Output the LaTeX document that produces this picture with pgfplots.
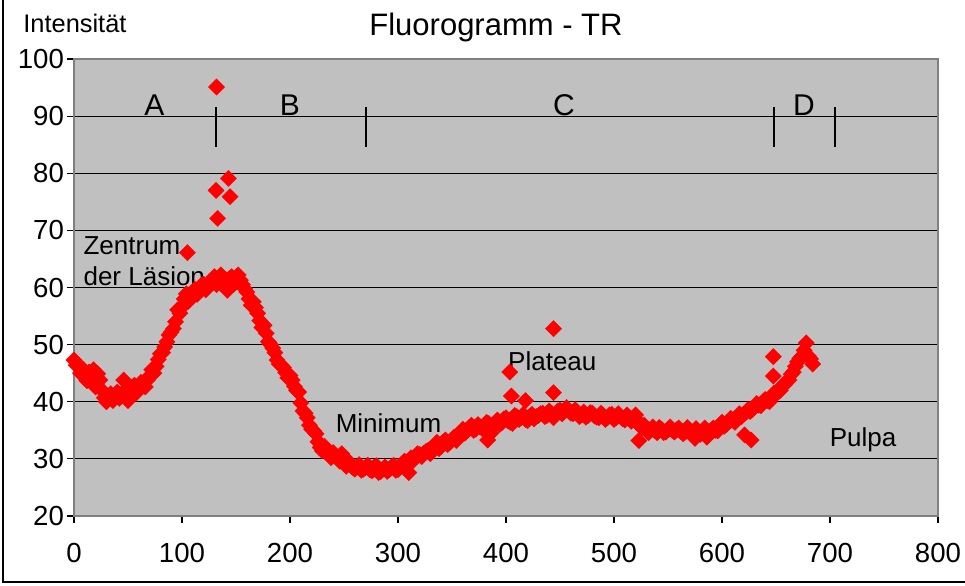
\documentclass[border=0pt]{standalone}
\usepackage{fontspec}
\setmainfont{Liberation Sans}
\usepackage{pgfplots}
\pgfplotsset{compat=1.18}

\definecolor{plotbg}{HTML}{C0C0C0}
\definecolor{frame}{HTML}{808080}
\definecolor{dotred}{HTML}{FF0000}

\begin{document}
\begin{tikzpicture}
\path[use as bounding box] (0,0) rectangle (482.5pt,-292.5pt);
% chart area border (only left and bottom survive the crop)
\draw[line width=1.2pt] (1.4pt,0) -- (1.4pt,-291pt) -- (482.5pt,-291pt);

\node[anchor=base, font=\fontsize{15.5pt}{18pt}\selectfont] at (248pt,-17.5pt) {Fluorogramm - TR};
\node[anchor=base west, inner sep=0pt, font=\fontsize{12.7pt}{15pt}\selectfont] at (11.5pt,-16pt) {Intensität};

\begin{axis}[
  at={(37pt,-258pt)}, anchor=south west,
  scale only axis,
  width=432pt, height=228.5pt,
  xmin=0, xmax=800, ymin=20, ymax=100,
  xtick={0,100,...,800},
  ytick={20,30,...,100},
  xtick pos=lower, ytick pos=left,
  tick align=outside,
  major tick length=3.5pt,
  tick style={black, line width=0.6pt},
  axis background/.style={fill=plotbg},
  axis line style={draw=frame, line width=1pt},
  ymajorgrids,
  grid style={black, line width=0.6pt},
  tick label style={font=\fontsize{13.8pt}{16pt}\selectfont},
  /pgf/number format/assume math mode=true,
  xticklabel style={yshift=-6.5pt},
  yticklabel style={xshift=2pt},
  clip=false,
]
\addplot[only marks, color=dotred, mark=square*, mark size=2.9pt,
  mark options={rotate=45, draw=dotred, fill=dotred, line width=0.1pt}] coordinates {
(0,47.3) (4,46.1) (8,45.8) (12,43.7) (16,44.2) (18,45.6) (20,42.6) (24,43.8)
(28,40.7) (32,40.9) (36,40.2) (40,41.7) (44,41.3) (46,43.8) (48,42.1) (50,40.2)
(52,41.1) (56,42.9) (60,42.2) (64,43.2) (68,43.8) (72,45.6) (76,46.2) (80,48.4)
(84,49.6) (88,51.7) (92,52.8) (96,56.1) (100,56.6) (104,58.9) (108,58.2) (112,59.7)
(116,59.4) (120,60.6) (124,60.2) (128,61.4) (132,60.5) (136,62.2) (140,61.3) (142,59.5)
(144,61.6) (148,60.6) (152,62.2) (156,60.5) (160,59.2) (164,56.9) (168,56.5) (172,54.2)
(176,53.4) (180,50.5) (184,49.4) (188,47.3) (192,46.4) (196,45.1) (200,44.6) (204,42.7)
(208,41.7) (212,38.4) (216,37.2) (220,35.2) (224,34.4) (228,32.0) (232,32.2) (236,30.8)
(240,31.1) (244,30.1) (248,30.9) (252,28.7) (256,29.2) (260,28.2) (264,29.0) (268,28.2)
(272,28.9) (276,27.9) (280,28.8) (284,27.8) (288,28.6) (292,28.1) (296,28.9) (300,28.1)
(304,29.2) (308,28.9) (310,27.6) (312,30.2) (316,30.2) (320,30.8) (324,31.0) (328,31.5)
(332,31.8) (336,32.9) (340,32.2) (344,33.3) (348,32.9) (352,33.8) (356,34.0) (360,35.2)
(364,35.0) (368,35.9) (372,35.2) (376,35.6) (380,35.8) (383,33.3) (386,34.5) (384,36.2)
(388,35.9) (392,36.8) (396,36.3) (400,37.2) (404,36.4) (408,37.6) (412,36.9) (416,37.8)
(420,36.7) (424,37.8) (428,37.4) (432,37.9) (436,37.4) (440,38.4) (444,37.2) (448,38.4)
(452,37.9) (456,39.0) (460,38.0) (464,38.6) (468,37.4) (472,38.2) (476,37.6) (480,38.0)
(484,37.3) (488,38.0) (492,36.9) (496,37.7) (500,36.9) (504,37.9) (508,37.0) (512,37.7)
(516,36.6) (520,37.7) (523,33.2) (524,35.8) (528,35.9) (532,34.6) (536,35.6) (540,34.6)
(544,35.2) (548,34.7) (552,35.6) (556,34.7) (560,35.4) (564,34.4) (568,35.5) (572,34.5)
(575,33.6) (576,35.3) (580,34.3) (584,35.4) (586,33.8) (588,34.4) (592,35.4) (596,34.9)
(600,36.4) (604,36.0) (608,37.1) (612,36.4) (616,37.9) (620,37.8) (621,34.2) (624,38.6)
(627,33.3) (628,38.6) (632,39.7) (636,39.3) (640,40.4) (644,40.0) (648,41.5) (652,42.0)
(656,42.8) (660,43.6) (664,44.8) (668,46.2) (672,47.6) (676,49.0) (678,50.3) (680,48.0)
(684,46.6)
(2,46.4) (6,45.0) (10,44.6) (14,45.2) (22,44.9) (26,42.0) (30,40.0) (34,41.4)
(38,41.0) (42,40.6) (54,42.0) (58,41.6) (62,43.4) (66,42.6) (70,44.5) (74,45.0)
(78,47.4) (82,48.6) (86,50.5) (90,52.2) (94,54.0) (98,55.5) (102,58.0) (106,57.6)
(110,59.0) (114,58.8) (118,60.4) (122,59.6) (126,61.0) (130,61.9) (134,61.1) (138,60.8)
(146,61.9) (150,61.0) (154,61.3) (158,59.8) (162,58.0) (166,57.5) (170,55.5) (174,53.0)
(178,52.0) (182,50.0) (186,48.6) (190,46.6) (194,46.0) (198,44.2) (202,43.8) (206,42.0)
(210,39.8) (214,38.0) (218,35.9) (222,34.9) (226,33.0) (230,31.4) (234,31.6) (238,30.2)
(242,30.6) (246,29.6) (250,29.9) (254,29.6) (258,28.5) (262,28.6) (266,28.0) (270,28.5)
(274,28.1) (278,28.6) (282,27.6) (286,28.2) (290,27.8) (294,28.6) (298,28.0) (302,28.6)
(306,29.6) (314,29.7) (318,30.9) (322,30.4) (326,31.3) (330,30.9) (334,32.2) (338,31.8)
(342,33.0) (346,32.5) (350,33.4) (354,33.2) (358,34.6) (362,34.5) (366,35.5) (370,35.0)
(374,36.0) (378,35.3) (382,36.4) (390,36.2) (394,36.0) (398,37.0) (402,36.6) (406,36.2)
(410,37.4) (414,37.2) (418,36.9) (422,37.4) (426,37.0) (430,37.6) (434,38.0) (438,37.6)
(442,37.9) (446,37.8) (450,38.5) (454,38.3) (458,38.4) (462,37.9) (466,38.2) (470,37.7)
(474,37.3) (478,38.1) (482,37.5) (486,37.2) (490,37.6) (494,37.2) (498,37.8) (502,37.2)
(506,37.4) (510,36.8) (514,37.2) (518,36.9) (522,36.6) (526,35.4) (530,35.3) (534,35.0)
(538,34.9) (542,35.5) (546,34.6) (550,35.1) (554,35.0) (558,35.1) (562,34.8) (566,34.7)
(570,35.0) (574,34.3) (578,34.6) (582,34.8) (590,35.0) (594,35.0) (598,35.6) (602,35.7)
(606,36.5) (610,36.8) (614,37.0) (618,37.4) (622,38.1) (626,38.3) (630,39.0) (634,39.4)
(638,40.0) (642,40.2) (646,40.8) (650,41.3) (654,42.0) (658,43.0) (662,43.8) (666,45.2)
(670,47.0) (674,48.0) (682,47.5)
(105,66.1) (132,95.1) (131.5,77.0) (143,79.1) (144.5,75.9) (133,72.1)
(403.5,45.2) (405,41.0) (418,40.2) (444,52.8) (444,41.6)
(647.5,47.9) (647.5,44.5)
};
% section markers
\draw[line width=1pt] (axis cs:131.5,84.6) -- (axis cs:131.5,91.6);
\draw[line width=1pt] (axis cs:270,84.6) -- (axis cs:270,91.6);
\draw[line width=1pt] (axis cs:648,84.6) -- (axis cs:648,91.6);
\draw[line width=1pt] (axis cs:705,84.6) -- (axis cs:705,91.6);
\begin{scope}[every node/.style={anchor=base, font=\fontsize{15pt}{18pt}\selectfont}]
\node at (axis cs:74.5,90.2) {A};
\node at (axis cs:200,90.2) {B};
\node at (axis cs:453.7,90.2) {C};
\node at (axis cs:676,90.2) {D};
\end{scope}
\begin{scope}[every node/.style={font=\fontsize{13pt}{15pt}\selectfont, inner sep=0pt}]
\node[anchor=base west] at (axis cs:8.5,65.7) {Zentrum};
\node[anchor=base west] at (axis cs:8.5,60.4) {der Läsion};
\node[anchor=base] at (axis cs:291.2,34.7) {Minimum};
\node[anchor=base] at (axis cs:442.9,45.4) {Plateau};
\node[anchor=base] at (axis cs:730.6,32.2) {Pulpa};
\end{scope}
\end{axis}
\end{tikzpicture}
\end{document}
